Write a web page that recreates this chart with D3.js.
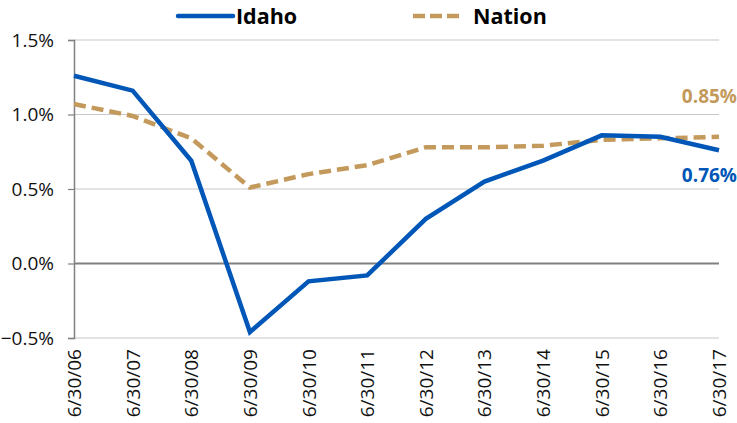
<!DOCTYPE html>
<html>
<head>
<meta charset="utf-8">
<script src="https://cdn.jsdelivr.net/npm/d3@7"></script>
<style>
  html, body { margin: 0; padding: 0; background: #fff; }
  svg { display: block; font-family: "Open Sans", "Noto Sans", sans-serif; }
</style>
</head>
<body>
<svg id="chart" width="737" height="423"></svg>
<script>
// Annual growth rates, fiscal years ending June 30
const categories = ["6/30/06","6/30/07","6/30/08","6/30/09","6/30/10","6/30/11",
                    "6/30/12","6/30/13","6/30/14","6/30/15","6/30/16","6/30/17"];
const idaho  = [1.26, 1.16, 0.69, -0.46, -0.12, -0.08, 0.30, 0.55, 0.69, 0.86, 0.85, 0.76];
const nation = [1.07, 0.99, 0.84, 0.51, 0.60, 0.66, 0.78, 0.78, 0.79, 0.83, 0.84, 0.85];
const yTicks = [-0.5, 0.0, 0.5, 1.0, 1.5];
const seriesNames = ["Idaho", "Nation"];
const colors = { Idaho: "#0057B8", Nation: "#C49A5C" };

const svg = d3.select("#chart");
const margin = { left: 74, right: 18, top: 40, bottom: 85 };
const W = 737, H = 423;

const x = d3.scalePoint().domain(categories).range([margin.left, W - margin.right]);
const y = d3.scaleLinear().domain([-0.5, 1.5]).range([H - margin.bottom, margin.top]);

// horizontal gridlines
svg.append("g").selectAll("line").data(yTicks.filter(d => d !== 0)).join("line")
  .attr("x1", margin.left).attr("x2", W - margin.right)
  .attr("y1", d => y(d)).attr("y2", d => y(d))
  .attr("stroke", "#c8c8c8").attr("stroke-width", 1.2);

// y axis
const yAxis = svg.append("g")
  .attr("transform", `translate(${margin.left},0)`)
  .call(d3.axisLeft(y).tickValues(yTicks).tickSize(6).tickPadding(14)
        .tickFormat(d => d3.format(".1f")(d) + "%"));
yAxis.select(".domain").attr("stroke", "#808080").attr("stroke-width", 1.5);
yAxis.selectAll(".tick line").attr("stroke", "#808080").attr("stroke-width", 1.2);
yAxis.selectAll(".tick text").attr("font-size", 19).attr("fill", "#111")
  .attr("font-family", "'Open Sans', sans-serif");

// category axis on the zero line
svg.append("line")
  .attr("x1", margin.left).attr("x2", W - margin.right)
  .attr("y1", y(0)).attr("y2", y(0))
  .attr("stroke", "#808080").attr("stroke-width", 2);

// rotated category labels under the plot
svg.append("g").selectAll("text").data(categories).join("text")
  .attr("transform", d => `translate(${x(d) + 7},${y(-0.5) + 11}) rotate(-90)`)
  .attr("text-anchor", "end")
  .attr("font-size", 19).attr("fill", "#111")
  .text(d => d);

// lines
const line = d3.line().x((d, i) => x(categories[i])).y(d => y(d));

svg.append("path").datum(nation)
  .attr("d", line).attr("fill", "none")
  .attr("stroke", colors.Nation).attr("stroke-width", 4.5)
  .attr("stroke-dasharray", "12,6");

svg.append("path").datum(idaho)
  .attr("d", line).attr("fill", "none")
  .attr("stroke", colors.Idaho).attr("stroke-width", 4.5)
  .attr("stroke-linejoin", "miter");

// end-value labels
const last = categories.length - 1;
svg.append("text")
  .attr("x", W).attr("y", y(nation[last]) - 34)
  .attr("text-anchor", "end").attr("font-size", 19).attr("font-weight", "bold")
  .attr("fill", colors.Nation)
  .text(d3.format(".2f")(nation[last]) + "%");
svg.append("text")
  .attr("x", W).attr("y", y(idaho[last]) + 32)
  .attr("text-anchor", "end").attr("font-size", 19).attr("font-weight", "bold")
  .attr("fill", colors.Idaho)
  .text(d3.format(".2f")(idaho[last]) + "%");

// legend
const legendPos = [178, 413];
const leg = svg.append("g").selectAll("g").data(seriesNames).join("g")
  .attr("transform", (d, i) => `translate(${legendPos[i]},16)`);
leg.append("line")
  .attr("x1", 0).attr("x2", d => d === "Idaho" ? 55 : 46)
  .attr("stroke", d => colors[d]).attr("stroke-width", 4.5)
  .attr("stroke-linecap", d => d === "Idaho" ? "round" : "butt")
  .attr("stroke-dasharray", d => d === "Idaho" ? null : "12,5");
leg.append("text")
  .attr("x", d => d === "Idaho" ? 58 : 60).attr("y", 8)
  .attr("font-size", 21.5).attr("font-weight", "bold").attr("fill", "#000")
  .text(d => d);
</script>
</body>
</html>
